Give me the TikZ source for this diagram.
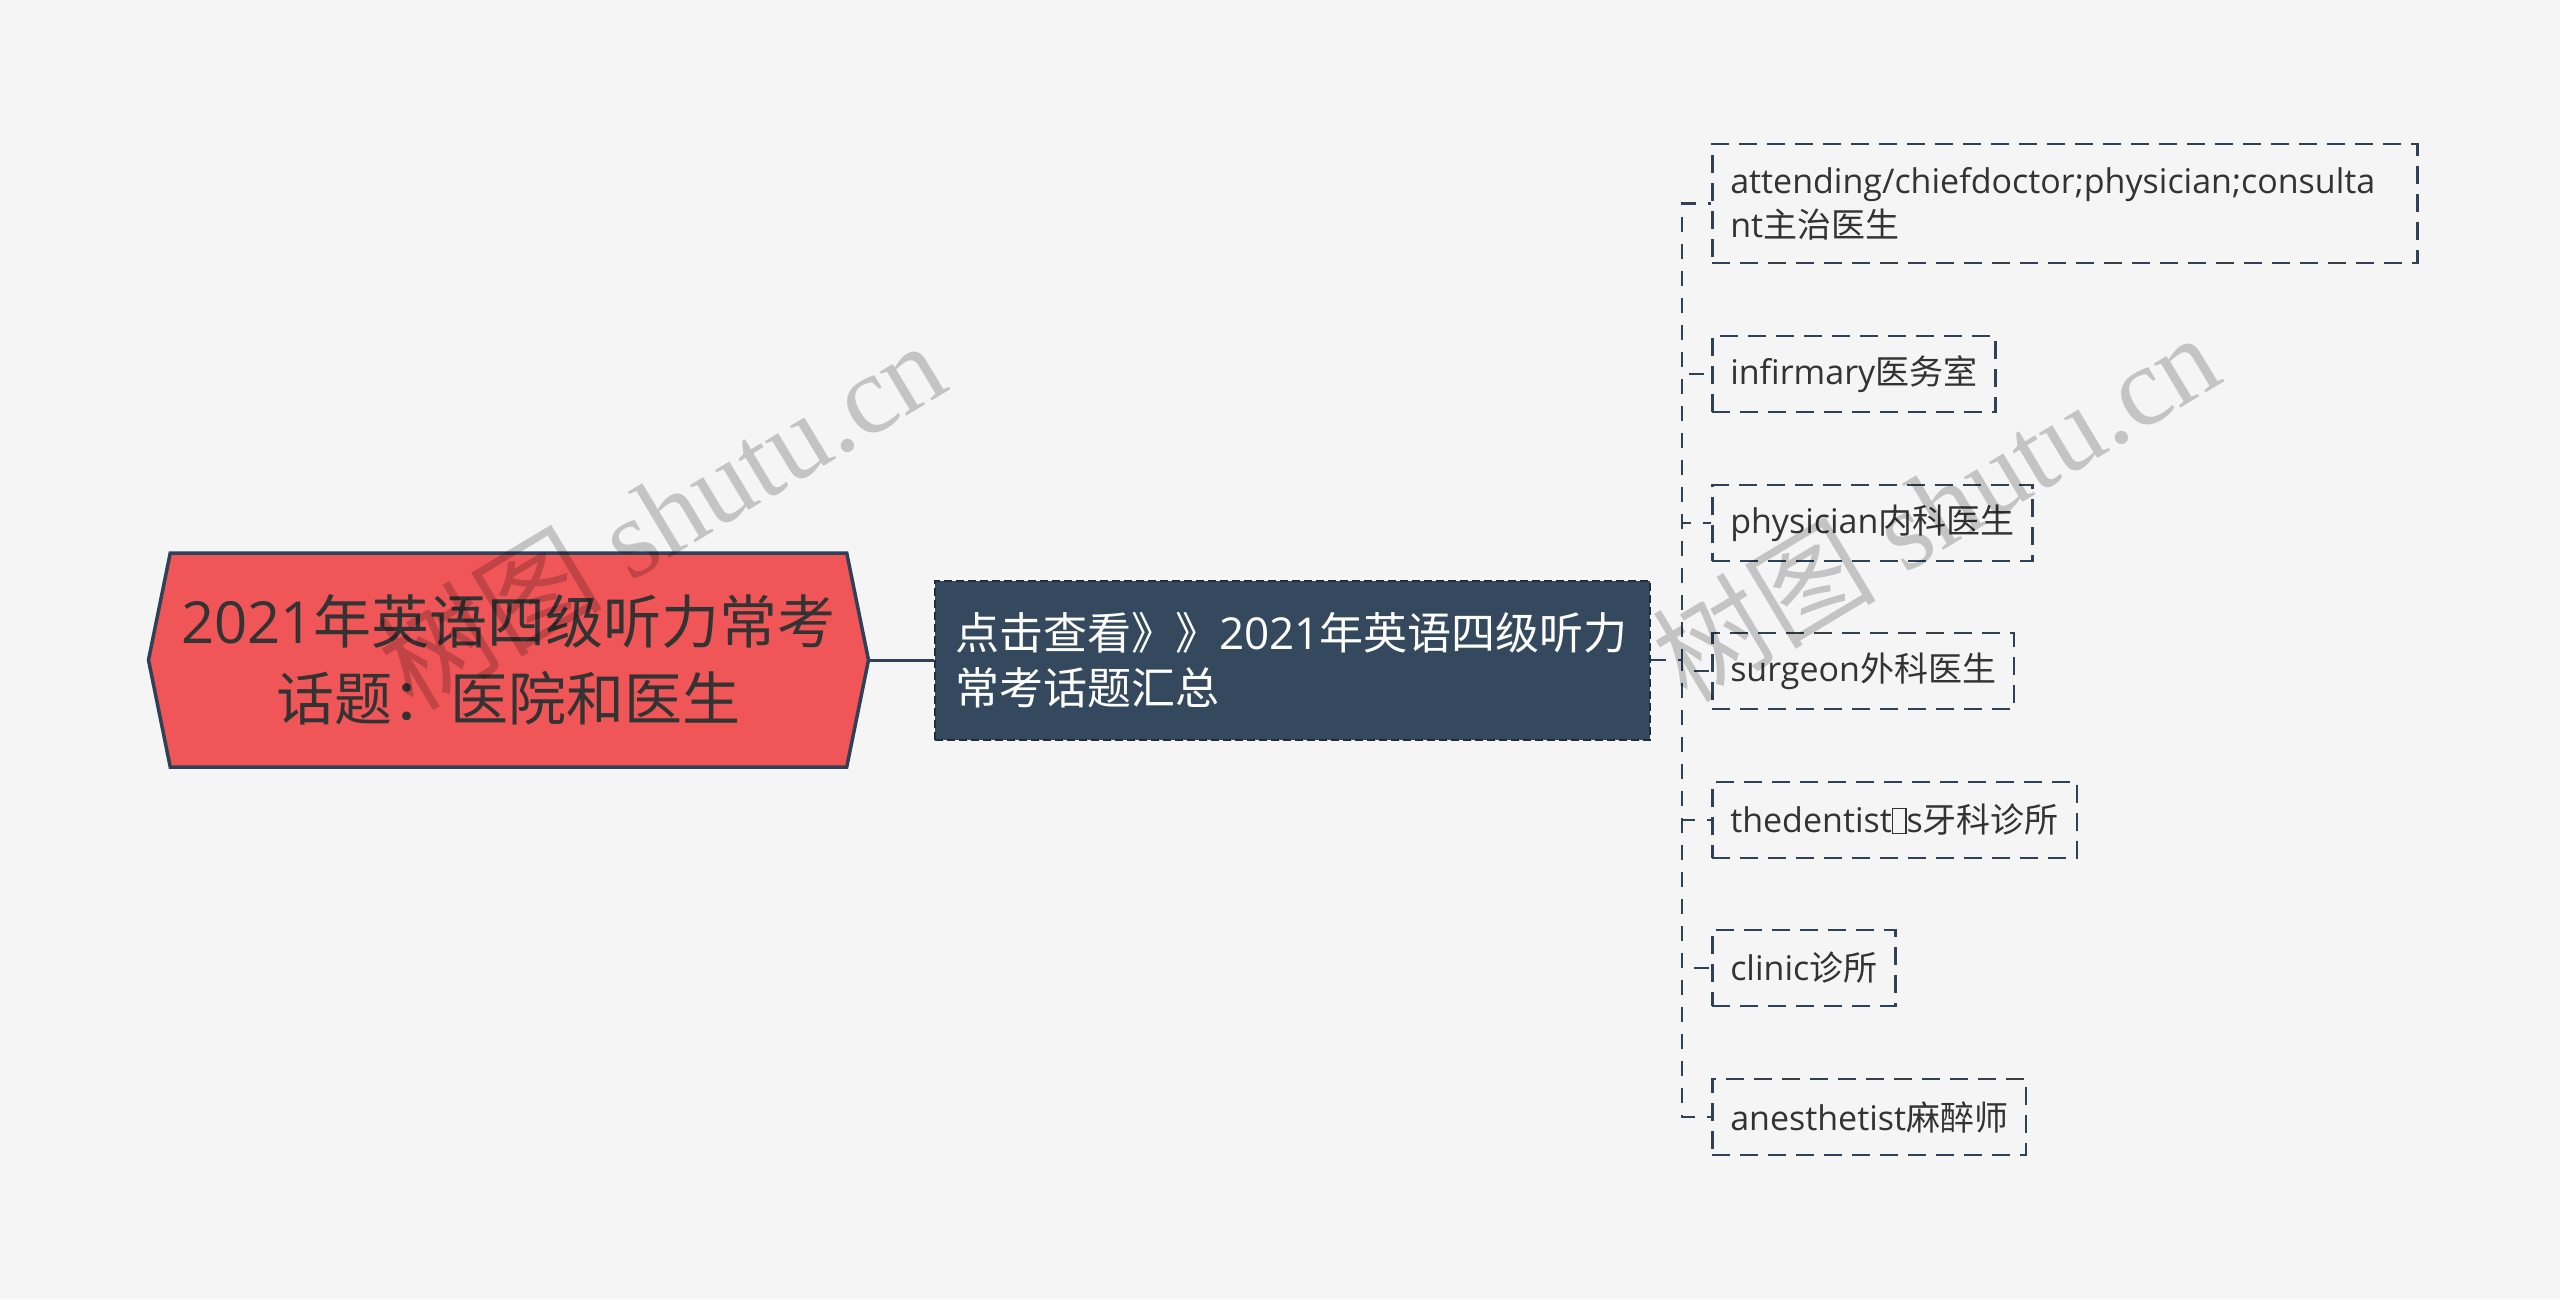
\documentclass[tikz,border=0pt]{standalone}
\usepackage{fontspec}
\setmainfont{Open Sans}
\newfontfamily\cjk{Noto Sans CJK SC}
\newfontfamily\wmserif{Liberation Serif}
\usetikzlibrary{shapes.symbols}
\definecolor{bg}{HTML}{F5F5F5}
\definecolor{rootfill}{HTML}{F05657}
\definecolor{navy}{HTML}{2E4156}
\definecolor{subfill}{HTML}{34495E}
\definecolor{txt}{HTML}{333333}
\newcommand{\nogl}{{\setlength{\fboxsep}{0pt}\setlength{\fboxrule}{1.5pt}\fbox{\rule{0pt}{0.7em}\hspace{0.35em}}}}
\begin{document}
\begin{tikzpicture}[x=1pt,y=-1pt,
 rootnode/.style={signal, signal to=east and west, signal pointer angle=157, fill=rootfill, draw=navy, line width=3.5pt, minimum width=720pt, minimum height=214pt, text=txt, align=center, font=\fontsize{58}{77}\selectfont, inner sep=0pt},
 subnode/.style={rectangle, fill=subfill, draw=navy!70!black, dash pattern=on 8pt off 4pt, line width=2pt, text=white, text width=675pt, inner xsep=20pt, minimum height=159pt, align=left, font=\fontsize{44}{55}\selectfont, anchor=west},
 leaf/.style={rectangle, draw=navy, dash pattern=on 18pt off 10pt, line width=2.5pt, text=txt, inner xsep=18pt, minimum height=76pt, align=left, font=\fontsize{34}{44}\selectfont, anchor=west},
 link/.style={draw=navy, line width=2.5pt, dash pattern=on 15pt off 12pt},
 solidlink/.style={draw=navy, line width=3pt},
 wm/.style={text=black, opacity=0.2, rotate=31, font=\fontsize{112}{112}\selectfont}
]
\fill[bg] (0,0) rectangle (2560,1299);
\useasboundingbox (0,0) rectangle (2560,1299);

\node[rootnode] (root) at (508.5,660) {2021{\cjk 年英语四级听力常考}\\{\cjk 话题：医院和医生}};
\node[subnode] (sub) at (934,660) {{\cjk 点击查看》》}2021{\cjk 年英语四级听力}\\{\cjk 常考话题汇总}};

\node[leaf, minimum height=119pt, text width=669pt] (l1) at (1711,203.5) {attending/chiefdoctor;physician;consulta\\nt{\cjk 主治医生}};
\node[leaf] (l2) at (1711,374) {infirmary{\cjk 医务室}};
\node[leaf] (l3) at (1711,523) {physician{\cjk 内科医生}};
\node[leaf] (l4) at (1711,671) {surgeon{\cjk 外科医生}};
\node[leaf] (l5) at (1711,820) {thedentist\nogl s{\cjk 牙科诊所}};
\node[leaf] (l6) at (1711,968) {clinic{\cjk 诊所}};
\node[leaf] (l7) at (1711,1117) {anesthetist{\cjk 麻醉师}};

\draw[solidlink] (root.east) -- (sub.west);
\foreach \n in {l1,l2,l3,l4,l5,l6,l7}{
  \draw[link] (sub.east) -- ++(31,0) |- (\n.west);
}

\node[wm] (wm1) at (661,514) {{\cjk 树图} {\wmserif shutu.cn}};
\node[wm] (wm2) at (1935,506) {{\cjk 树图} {\wmserif shutu.cn}};
\end{tikzpicture}
\end{document}
